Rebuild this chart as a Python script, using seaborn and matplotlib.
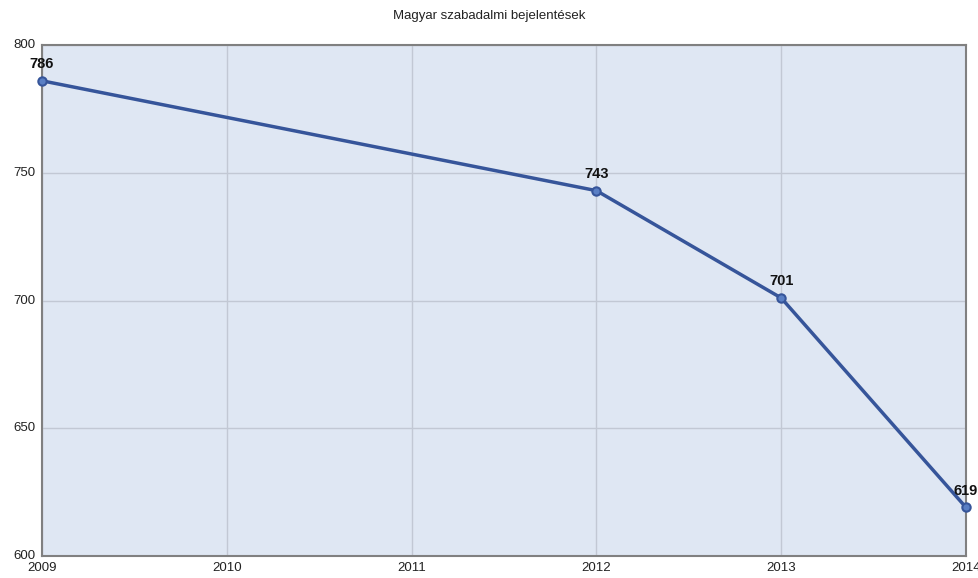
import matplotlib
matplotlib.use("Agg")
import matplotlib.pyplot as plt
import seaborn as sns
import pandas as pd

years = [2009, 2012, 2013, 2014]
values = [786, 743, 701, 619]
xticks = [2009, 2010, 2011, 2012, 2013, 2014]
yticks = [600, 650, 700, 750, 800]
title = "Magyar szabadalmi bejelentések"

df = pd.DataFrame({"year": years, "value": values})

sns.set_style("white")
plt.rcParams['font.family'] = ['Liberation Sans', 'DejaVu Sans']

fig = plt.figure(figsize=(9.79, 5.78), dpi=100)
ax = fig.add_axes([0.0429, 0.0381, 0.9438, 0.884])
ax.set_facecolor("#dfe7f3")

sns.lineplot(data=df, x="year", y="value", ax=ax, color="#36559a", linewidth=2.5,
             marker="o", markersize=6, markeredgecolor="#36559a", markerfacecolor="#5a7fc4",
             markeredgewidth=1.5, zorder=3, clip_on=False)

for x, y in zip(years, values):
    ax.annotate(str(y), (x, y), xytext=(0, 7), textcoords="offset points",
                ha="center", va="bottom", fontsize=10.5, fontweight="bold", color="#111111")

ax.set_xlim(2009, 2014)
ax.set_ylim(600, 800)
ax.set_xticks(xticks)
ax.set_yticks(yticks)
ax.grid(True, color="#c2c8d4", linewidth=1)
ax.set_axisbelow(True)
ax.set_xlabel("")
ax.set_ylabel("")
ax.tick_params(axis="both", labelsize=9.5, colors="#222222", length=0)
ax.tick_params(axis="x", pad=4)
ax.tick_params(axis="y", pad=5)
for lbl in ax.get_yticklabels():
    lbl.set_verticalalignment("center")
for s in ax.spines.values():
    s.set_color("#808080")
    s.set_linewidth(1.5)
    s.set_visible(True)
fig.text(0.5, 0.972, title, ha="center", va="center", fontsize=9.5, color="#222222")

fig.savefig("out.png", dpi=100)
